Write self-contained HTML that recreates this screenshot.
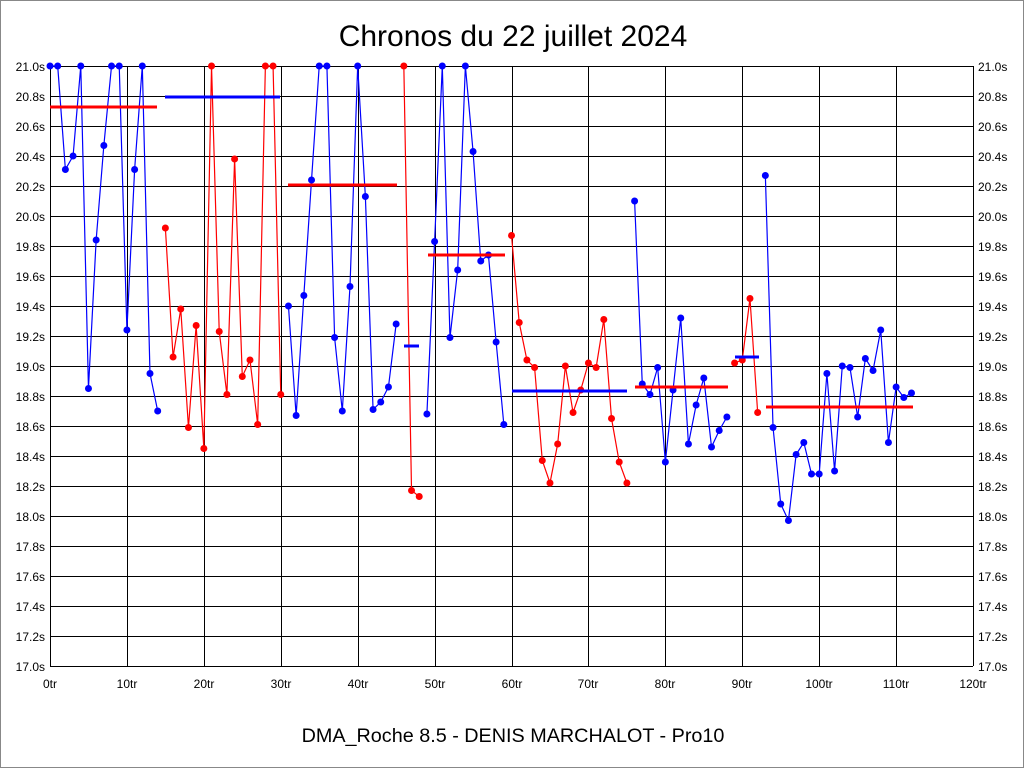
<!DOCTYPE html>
<html><head><meta charset="utf-8"><style>
body{margin:0;background:#fff}
svg{display:block;font-family:"Liberation Sans",sans-serif}
</style></head><body>
<svg id="s" width="1024" height="768" xmlns="http://www.w3.org/2000/svg">
<rect x="0.5" y="0.5" width="1023" height="767" fill="#fff" stroke="#888"/>
<text x="513" y="46" font-size="30" text-anchor="middle">Chronos du 22 juillet 2024</text>
<text x="513" y="742" font-size="19.8" text-anchor="middle">DMA_Roche 8.5 - DENIS MARCHALOT - Pro10</text>
<g id="grid" stroke="#000" stroke-width="1"></g>
<g font-size="12" text-anchor="end">
<text x="45" y="71">21.0s</text><text x="45" y="101">20.8s</text><text x="45" y="131">20.6s</text><text x="45" y="161">20.4s</text><text x="45" y="191">20.2s</text><text x="45" y="221">20.0s</text><text x="45" y="251">19.8s</text><text x="45" y="281">19.6s</text><text x="45" y="311">19.4s</text><text x="45" y="341">19.2s</text><text x="45" y="371">19.0s</text><text x="45" y="401">18.8s</text><text x="45" y="431">18.6s</text><text x="45" y="461">18.4s</text><text x="45" y="491">18.2s</text><text x="45" y="521">18.0s</text><text x="45" y="551">17.8s</text><text x="45" y="581">17.6s</text><text x="45" y="611">17.4s</text><text x="45" y="641">17.2s</text><text x="45" y="671">17.0s</text>
</g>
<g font-size="12" text-anchor="start">
<text x="978" y="71">21.0s</text><text x="978" y="101">20.8s</text><text x="978" y="131">20.6s</text><text x="978" y="161">20.4s</text><text x="978" y="191">20.2s</text><text x="978" y="221">20.0s</text><text x="978" y="251">19.8s</text><text x="978" y="281">19.6s</text><text x="978" y="311">19.4s</text><text x="978" y="341">19.2s</text><text x="978" y="371">19.0s</text><text x="978" y="401">18.8s</text><text x="978" y="431">18.6s</text><text x="978" y="461">18.4s</text><text x="978" y="491">18.2s</text><text x="978" y="521">18.0s</text><text x="978" y="551">17.8s</text><text x="978" y="581">17.6s</text><text x="978" y="611">17.4s</text><text x="978" y="641">17.2s</text><text x="978" y="671">17.0s</text>
</g>
<g font-size="12" text-anchor="middle">
<text x="50" y="688">0tr</text><text x="127" y="688">10tr</text><text x="204" y="688">20tr</text><text x="281" y="688">30tr</text><text x="358" y="688">40tr</text><text x="435" y="688">50tr</text><text x="512" y="688">60tr</text><text x="588" y="688">70tr</text><text x="665" y="688">80tr</text><text x="742" y="688">90tr</text><text x="819" y="688">100tr</text><text x="896" y="688">110tr</text><text x="973" y="688">120tr</text>
</g>
<g id="data"></g>
</svg>
<script>
var ns="http://www.w3.org/2000/svg",g=document.getElementById("grid"),d=document.getElementById("data");
function el(p,t,a){var e=document.createElementNS(ns,t);for(var k in a)e.setAttribute(k,a[k]);p.appendChild(e);return e;}
for(var i=0;i<=20;i++){var y=66+i*30;el(g,"line",{x1:50,x2:973,y1:y+0.5,y2:y+0.5});}
for(var i=0;i<=12;i++){var x=Math.round(50+i*76.92);el(g,"line",{x1:x+0.5,x2:x+0.5,y1:66,y2:666});}
var v=[21.0,21.0,20.31,20.40,21.0,18.85,19.84,20.47,21.0,21.0,19.24,20.31,21.0,18.95,18.70,
19.92,19.06,19.38,18.59,19.27,18.45,21.0,19.23,18.81,20.38,18.93,19.04,18.61,21.0,21.0,18.81,
19.40,18.67,19.47,20.24,21.0,21.0,19.19,18.70,19.53,21.0,20.13,18.71,18.76,18.86,19.28,
21.0,18.17,18.13,
18.68,19.83,21.0,19.19,19.64,21.0,20.43,19.70,19.74,19.16,18.61,
19.87,19.29,19.04,18.99,18.37,18.22,18.48,19.00,18.69,18.84,19.02,18.99,19.31,18.65,18.36,18.22,
20.10,18.88,18.81,18.99,18.36,18.84,19.32,18.48,18.74,18.92,18.46,18.57,18.66,
19.02,19.04,19.45,18.69,
20.27,18.59,18.08,17.97,18.41,18.49,18.28,18.28,18.95,18.30,19.00,18.99,18.66,19.05,18.97,19.24,18.49,18.86,18.79,18.82];
var segs=[[0,14,"#00f"],[15,30,"#f00"],[31,45,"#00f"],[46,48,"#f00"],[49,59,"#00f"],[60,75,"#f00"],[76,88,"#00f"],[89,92,"#f00"],[93,112,"#00f"]];
function X(i){return 50+i*7.692;}function Y(t){return 66+(21-t)*150;}
segs.forEach(function(s){var p=[];for(var i=s[0];i<=s[1];i++)p.push(X(i)+","+Y(v[i]));
el(d,"polyline",{points:p.join(" "),fill:"none",stroke:s[2],"stroke-width":1.2});
for(var i=s[0];i<=s[1];i++)el(d,"circle",{cx:X(i),cy:Y(v[i]),r:3.5,fill:s[2]});});
var av=[[50,157,107,"#f00"],[165,280,97,"#00f"],[288,397,185,"#f00"],[404,419,346,"#00f"],[428,505,255,"#f00"],[512,627,391,"#00f"],[635,728,387,"#f00"],[735,759,357,"#00f"],[766,913,407,"#f00"]];
av.forEach(function(a){el(d,"line",{x1:a[0],x2:a[1],y1:a[2],y2:a[2],stroke:a[3],"stroke-width":3});});
</script>
</body></html>
